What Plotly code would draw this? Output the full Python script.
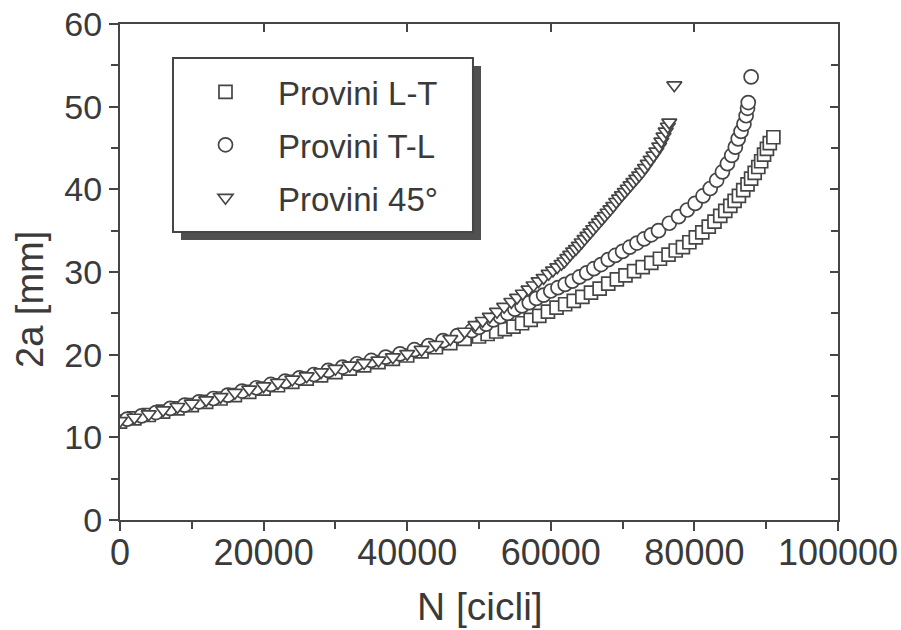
import plotly.graph_objects as go

# ---- data ----
lt_N = [0, 2000, 4000, 6000, 8000, 10000, 12000, 14000, 16000, 18000, 20000, 22000, 24000, 26000,
        28000, 30000, 32000, 34000, 36000, 38000, 40000, 42000, 44000, 46000, 48000,
        50000, 51200, 52400, 53600, 54800, 56000, 57200, 58400, 59600, 60800, 62000, 63200,
        64400, 65600, 66800, 68000, 69200, 70400, 71600, 72800, 74000, 75200, 76400, 77400,
        78400, 79300, 80200, 81100, 82000, 82800, 83600, 84300, 85000, 85600, 86200, 86800,
        87400, 87900, 88400, 88900, 89300, 89700, 90100, 90500, 91000]
lt_a = [11.9, 12.3, 12.7, 13.1, 13.5, 13.9, 14.3, 14.7, 15.1, 15.5, 15.9, 16.3, 16.7, 17.1,
        17.5, 17.9, 18.3, 18.7, 19.1, 19.5, 19.9, 20.4, 20.9, 21.4, 21.9,
        22.2, 22.5, 22.8, 23.1, 23.4, 23.8, 24.2, 24.7, 25.2, 25.7, 26.1, 26.5,
        27.0, 27.5, 28.0, 28.6, 29.1, 29.6, 30.1, 30.6, 31.1, 31.6, 32.1, 32.6,
        33.0, 33.6, 34.2, 34.8, 35.5, 36.1, 36.8, 37.4, 38.0, 38.6, 39.2, 39.9,
        40.6, 41.3, 42.0, 42.7, 43.4, 44.2, 44.9, 45.6, 46.3]

tl_N = [1000, 3000, 5000, 7000, 9000, 11000, 13000, 15000, 17000, 19000, 21000, 23000, 25000,
        27000, 29000, 31000, 33000, 35000, 37000, 39000, 41000, 43000, 45000, 47000, 49000,
        50000, 51000, 52000, 53000, 54000, 55000, 56000, 57000, 58000, 59000, 60000, 61000,
        62000, 63000, 64000, 65000, 66000, 67000, 68000, 69000, 70000, 71000, 72000, 73000,
        74000, 75000, 76500, 77800, 79000, 80100, 81200, 82200, 83100, 83900, 84600, 85200,
        85700, 86100, 86500, 86900, 87200, 87400, 87500, 87900]
tl_a = [12.2, 12.6, 13.0, 13.5, 13.9, 14.3, 14.7, 15.1, 15.6, 16.0, 16.4, 16.8, 17.2,
        17.6, 18.1, 18.5, 18.9, 19.3, 19.7, 20.1, 20.6, 21.1, 21.7, 22.3, 22.9,
        23.3, 23.7, 24.2, 24.6, 25.0, 25.5, 25.9, 26.3, 26.8, 27.2, 27.7, 28.1,
        28.5, 28.9, 29.4, 29.9, 30.4, 30.9, 31.5, 32.0, 32.5, 33.0, 33.5, 34.0,
        34.5, 35.0, 35.9, 36.7, 37.5, 38.3, 39.2, 40.1, 41.1, 42.1, 43.1, 44.1,
        45.1, 46.1, 47.0, 47.9, 48.9, 49.8, 50.5, 53.6]

d45_N = [0, 2000, 4000, 6000, 8000, 10000, 12000, 14000, 16000, 18000, 20000, 22000, 24000,
         26000, 28000, 30000, 32000, 34000, 36000, 38000, 40000, 42000, 44000, 46000, 48000,
         49500, 50500, 51500, 52500, 53500, 54500, 55300, 56100, 56900, 57600, 58300, 59000,
         59700, 60300, 60900, 61500, 61900, 62300, 62700, 63100, 63500, 63900, 64300, 64700,
         65100, 65500, 65900, 66300, 66700, 67100, 67500, 67900, 68300, 68700, 69100, 69500,
         69900, 70300, 70700, 71100, 71500, 71900, 72300, 72700, 73100, 73500, 73900, 74300,
         74700, 75100, 75400, 75700, 76000, 76300, 76500, 77200]
d45_a = [12.0, 12.4, 12.8, 13.3, 13.7, 14.1, 14.5, 14.9, 15.4, 15.8, 16.2, 16.6, 17.0,
         17.4, 17.9, 18.3, 18.7, 19.0, 19.3, 19.7, 20.1, 20.6, 21.2, 21.9, 22.8,
         23.6, 24.1, 24.6, 25.2, 25.8, 26.4, 26.9, 27.4, 27.9, 28.4, 28.9, 29.3,
         29.8, 30.2, 30.6, 31.0, 31.3, 31.7, 32.1, 32.5, 32.8, 33.2, 33.6, 34.0,
         34.4, 34.8, 35.2, 35.6, 36.0, 36.4, 36.8, 37.2, 37.6, 38.0, 38.5, 38.9,
         39.3, 39.7, 40.1, 40.5, 40.9, 41.3, 41.7, 42.1, 42.6, 43.1, 43.6, 44.1,
         44.6, 45.2, 45.8, 46.4, 47.0, 47.6, 48.1, 52.6]

series_names = ["Provini L-T", "Provini T-L", "Provini 45°"]
x_ticks = [0, 20000, 40000, 60000, 80000, 100000]
y_ticks = [0, 10, 20, 30, 40, 50, 60]

INK = "#454545"
TXT = "#3a3a3a"
FONT = "Liberation Sans, Arial, sans-serif"

fig = go.Figure()
specs = [(lt_N, lt_a, "square", 13), (tl_N, tl_a, "circle", 14), (d45_N, d45_a, "triangle-down", 13)]
for (xs, ys, sym, sz), name in zip(specs, series_names):
    fig.add_trace(go.Scatter(
        x=xs, y=ys, mode="markers", name=name, legendgroup=name,
        marker=dict(symbol=sym, size=sz, color="white", line=dict(color=INK, width=1.7)),
    ))

# helper trace to create top/right axes
fig.add_trace(go.Scatter(x=[], y=[], xaxis="x2", yaxis="y2", showlegend=False, hoverinfo="skip"))

fig.update_layout(
    width=901, height=630,
    margin=dict(l=120, r=63, t=24, b=110),
    paper_bgcolor="white", plot_bgcolor="white",
    font=dict(family=FONT, color=TXT),
    showlegend=True,
    legend=dict(x=0.0738, y=0.9195, xanchor="left", yanchor="top",
                bgcolor="rgba(0,0,0,0)", borderwidth=0, indentation=0,
                font=dict(size=33, family=FONT, color=TXT),
                traceorder="grouped", tracegroupgap=7, itemwidth=95),
    xaxis=dict(range=[0, 100000], tickvals=x_ticks, ticktext=[str(v) for v in x_ticks],
               automargin=False,
               showgrid=False, zeroline=False, showline=True, linecolor=INK, linewidth=2,
               ticks="outside", ticklen=9, tickwidth=2, tickcolor=INK, ticklabeloverflow="allow",
               ticklabelstandoff=-9,
               minor=dict(dtick=10000, tick0=0, ticks="outside", ticklen=7, tickwidth=2, tickcolor=INK),
               tickfont=dict(size=36, family=FONT, color=TXT)),
    yaxis=dict(range=[0, 60], tickvals=y_ticks, automargin=False,
               showgrid=False, zeroline=False, showline=True, linecolor=INK, linewidth=2,
               ticks="outside", ticklen=9, tickwidth=2, tickcolor=INK,
               minor=dict(dtick=5, tick0=0, ticks="outside", ticklen=7, tickwidth=2, tickcolor=INK),
               tickfont=dict(size=34, family=FONT, color=TXT)),
    xaxis2=dict(range=[0, 100000], overlaying="x", side="top", tickvals=x_ticks, showticklabels=False,
                automargin=False,
                showgrid=False, zeroline=False, showline=True, linecolor=INK, linewidth=2,
                ticks="inside", ticklen=8, tickwidth=2, tickcolor=INK),
    yaxis2=dict(range=[0, 60], overlaying="y", side="right", tickvals=y_ticks, showticklabels=False,
                automargin=False,
                showgrid=False, zeroline=False, showline=True, linecolor=INK, linewidth=2,
                ticks="inside", ticklen=8, tickwidth=2, tickcolor=INK,
                minor=dict(dtick=5, tick0=0, ticks="inside", ticklen=7, tickwidth=2, tickcolor=INK)),
)

# axis titles as annotations (positioned as in the original)
fig.add_annotation(text="2a [mm]", textangle=-90, xref="paper", yref="paper",
                   x=(30 - 120) / 718, y=(520 - 300) / 496, showarrow=False,
                   xanchor="center", yanchor="middle",
                   font=dict(size=38, family=FONT, color=TXT))
fig.add_annotation(text="N [cicli]", xref="paper", yref="paper",
                   x=(480 - 120) / 718, y=(520 - 606) / 496, showarrow=False,
                   xanchor="center", yanchor="middle",
                   font=dict(size=39, family=FONT, color=TXT))

# legend drop shadow and box
fig.add_shape(type="rect", xref="paper", yref="paper",
              x0=0.0850, x1=0.5028, y0=0.5645, y1=0.9153,
              fillcolor="#505050", line=dict(width=0), layer="above")
fig.add_shape(type="rect", xref="paper", yref="paper",
              x0=0.0738, x1=0.4916, y0=0.5806, y1=0.9315,
              fillcolor="white", line=dict(color=INK, width=2), layer="above")

fig.write_html("out.html")
